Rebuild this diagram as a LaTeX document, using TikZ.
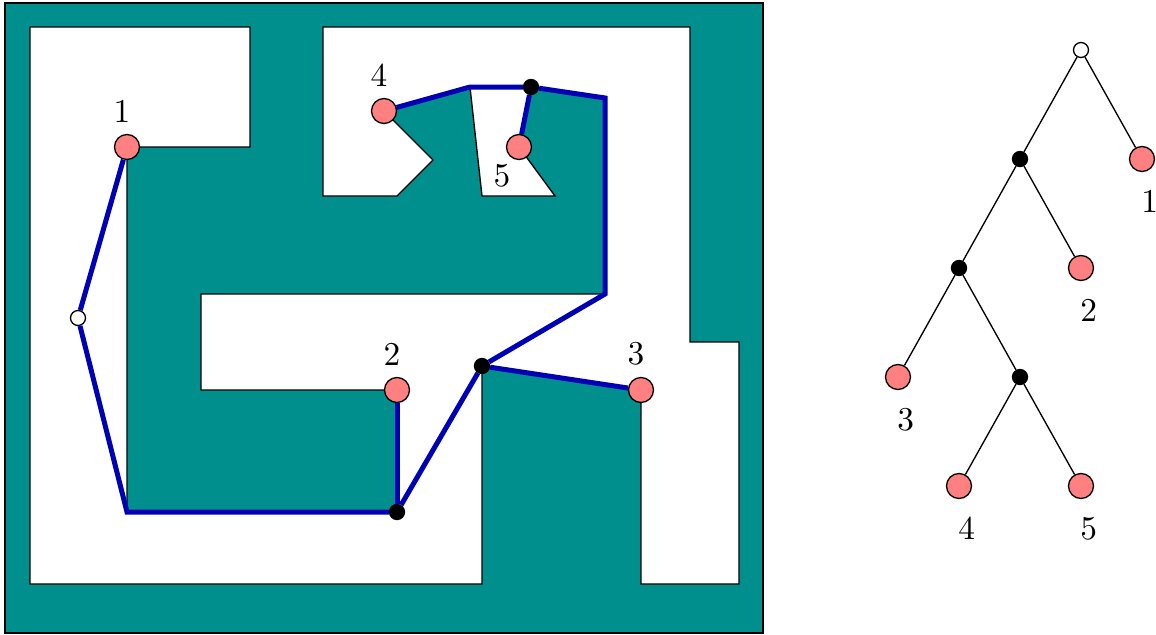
\documentclass[tikz,border=0pt]{standalone}
\usepackage{tikz}
\usetikzlibrary{positioning}
\definecolor{Obstacle}{RGB}{0,143,140}
\definecolor{PathBlue}{RGB}{0,0,180}
\definecolor{Goal}{RGB}{255,128,128}

\begin{document}
\begin{tikzpicture}[
    x=0.3pt, y=-0.3pt,
    goal/.style={circle, draw, fill=Goal, inner sep=0pt, minimum size=7.5pt},
    junction/.style={circle, draw, fill=black, inner sep=0pt, minimum size=4.5pt},
    rootdot/.style={circle, draw, fill=white, inner sep=0pt, minimum size=4.5pt},
    route/.style={PathBlue, line width=1.5pt},
    free/.style={draw, fill=white, line width=0.4pt},
    mlbl/.style={xshift=-1.5pt},
    tlbl/.style={xshift=2.3pt, label distance=1.8pt}
    ]
    \useasboundingbox (0,0) rectangle (1156,635);

    % workspace: obstacles and free space
    \draw[fill=Obstacle] (5,3) rectangle (763,633);
    \draw[free] (30,27) -- (250,27) -- (250,147) -- (127,147) -- (127,512)
      -- (397,512) -- (397,390) -- (201,390) -- (201,294) -- (605,294)
      -- (605,98) -- (531,87) -- (519,147) -- (555,196) -- (482,196)
      -- (470,87) -- (384,111) -- (433,160) -- (397,196) -- (323,196)
      -- (323,27) -- (690,27) -- (690,342) -- (739,342) -- (739,584)
      -- (641,584) -- (641,390) -- (482,366) -- (482,584) -- (30,584) -- cycle;

    \node[rootdot] (s) at (78,318) {};
    \node[goal, label={[mlbl]above:1}] (g1) at (127,147) {};
    \node[goal, label={[mlbl]above:2}] (g2) at (397,390) {};
    \node[goal, label={[mlbl]above:3}] (g3) at (641,390) {};
    \node[goal, label={[mlbl]above:4}] (g4) at (384,111) {};
    \node[goal, label={[xshift=-5.1pt, label distance=-2.2pt]below:5}] (g5) at (519,147) {};
    \node[junction] (j1) at (397,512) {};
    \node[junction] (j2) at (482,366) {};
    \node[junction] (j3) at (531,87) {};
    \coordinate (c1) at (127,512);
    \coordinate (c2) at (605,294);
    \coordinate (c3) at (605,98);
    \coordinate (c4) at (470,87);

    \draw[route] (g1) -- (s) -- (c1) -- (j1);
    \draw[route] (j1) -- (g2);
    \draw[route] (j1) -- (j2);
    \draw[route] (j2) -- (g3);
    \draw[route] (j2) -- (c2) -- (c3) -- (j3);
    \draw[route] (j3) -- (g5);
    \draw[route] (j3) -- (c4) -- (g4);

    % tree
    \node[rootdot] (troot) at (1081,50) {};
    \begin{scope}[node distance=32.7pt and 18.3pt, on grid]
      \node[junction, below left=of troot] (t1) {};
      \node[goal, below right=of troot, label={[tlbl]below:1}] (tg1) {};
      \node[junction, below left=of t1] (t2) {};
      \node[goal, below right=of t1, label={[tlbl]below:2}] (tg2) {};
      \node[goal, below left=of t2, label={[tlbl]below:3}] (tg3) {};
      \node[junction, below right=of t2] (t3) {};
      \node[goal, below left=of t3, label={[tlbl]below:4}] (tg4) {};
      \node[goal, below right=of t3, label={[tlbl]below:5}] (tg5) {};
    \end{scope}
    \foreach \a/\b in {troot/t1, troot/tg1, t1/t2, t1/tg2, t2/tg3, t2/t3, t3/tg4, t3/tg5}
      \draw (\a) -- (\b);
\end{tikzpicture}
\end{document}
